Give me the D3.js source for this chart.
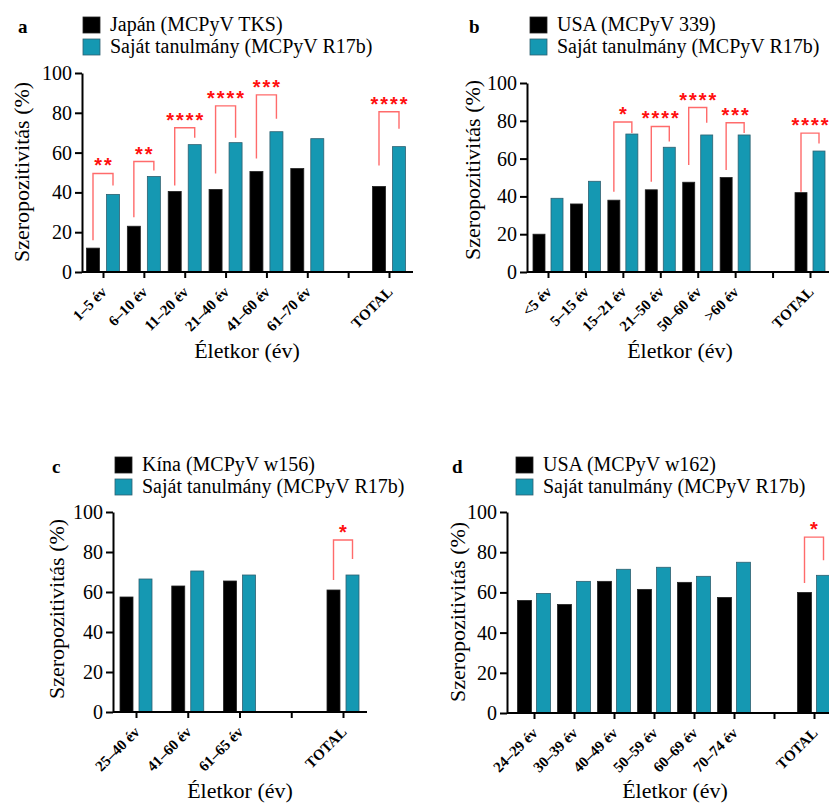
<!DOCTYPE html>
<html>
<head>
<meta charset="utf-8">
<script src="https://cdn.jsdelivr.net/npm/d3@7"></script>
<style>
  body { margin: 0; background: #fff; }
  svg text { font-family: "Liberation Serif", serif; }
</style>
</head>
<body>
<div id="chart"></div>
<script>
// ---- data ----
const yTicks = [0, 20, 40, 60, 80, 100];
const ownLabel = 'Saját tanulmány (MCPyV R17b)';

const catsA = ['1–5 év', '6–10 év', '11–20 év', '21–40 év', '41–60 év', '61–70 év', '', 'TOTAL'];
const japanA = [12, 23, 40.5, 41.5, 50.5, 52, null, 43];
const ownA = [39, 48, 64, 65, 70.5, 67, null, 63];
// [category index, stars, bracket top, left leg end, right leg end]
const sigA = [
  [0, '**', 49.5, 16, 43.5],
  [1, '**', 55.5, 27.5, 51],
  [2, '****', 72.5, 43.5, 67.5],
  [3, '****', 83.5, 49.5, 67.5],
  [4, '***', 89, 57, 77],
  [7, '****', 80.5, 53.5, 72]
];

const catsB = ['<5 év', '5–15 év', '15–21 év', '21–50 év', '50–60 év', '>60 év', '', 'TOTAL'];
const usaB = [20, 36, 38, 43.5, 47.5, 50, null, 42];
const ownB = [39, 48, 73, 66, 72.5, 72.5, null, 64];
const sigB = [
  [2, '*', 79.4, 42.5, 73.5],
  [3, '****', 77, 47.7, 69],
  [4, '****', 87, 56.6, 79],
  [5, '***', 79, 54, 73.5],
  [7, '****', 73.5, 42.5, 68]
];

const catsC = ['25–40 év', '41–60 év', '61–65 év', '', 'TOTAL'];
const chinaC = [57.5, 63, 65.5, null, 61];
const ownC = [66.5, 70.5, 68.5, null, 68.5];
const sigC = [[4, '*', 86, 66, 76.5]];

const catsD = ['24–29 év', '30–39 év', '40–49 év', '50–59 év', '60–69 év', '70–74 év', '', 'TOTAL'];
const usaD = [56, 54, 65.5, 61.5, 65, 57.5, null, 60];
const ownD = [59.5, 65.5, 71.5, 72.5, 68, 75, null, 68.5];
const sigD = [[7, '*', 87.5, 64.7, 76]];

// ---- drawing ----
const teal = '#1598b2';
const tealStroke = '#2e6070';
const bracketColor = '#ff6b6b';
const starColor = '#ff1010';

const svg = d3.select('#chart').append('svg')
  .attr('width', 829)
  .attr('height', 808)
  .style('display', 'block');

function drawPanel(p) {
  const g = svg.append('g').attr('class', `panel-${p.letter}`);

  const yScale = d3.scaleLinear()
    .domain([0, 100])
    .range([p.y0, p.y100]);

  const xScale = d3.scalePoint()
    .domain(p.cats)
    .range([p.first, p.last]);

  // bars
  const series = [
    { values: p.ref, fill: '#000', stroke: '#222', offset: -p.gap - p.w },
    { values: p.own, fill: teal, stroke: tealStroke, offset: p.gap }
  ];
  series.forEach((s) => {
    const rows = p.cats.map((c, i) => ({ cat: c, v: s.values[i] })).filter((d) => d.v !== null);
    g.append('g').selectAll('rect')
      .data(rows)
      .join('rect')
      .attr('x', (d) => xScale(d.cat) + s.offset)
      .attr('y', (d) => yScale(d.v))
      .attr('width', p.w)
      .attr('height', (d) => p.y0 - yScale(d.v))
      .style('fill', s.fill)
      .style('stroke', s.stroke)
      .style('stroke-width', 0.8);
  });

  // y axis
  const yAxis = g.append('g')
    .attr('transform', `translate(${p.x0},0)`)
    .call(d3.axisLeft(yScale).tickValues(yTicks).tickSize(7).tickSizeOuter(0).tickPadding(3));
  yAxis.attr('font-family', null).attr('font-size', null);
  yAxis.select('.domain').style('stroke-width', 2);
  yAxis.selectAll('.tick line').style('stroke-width', 2);
  yAxis.selectAll('.tick text').style('font-size', '20px');

  // x axis
  const xAxis = g.append('g')
    .attr('transform', `translate(0,${p.y0})`)
    .call(d3.axisBottom(xScale).tickSize(6).tickSizeOuter(0));
  xAxis.attr('font-family', null).attr('font-size', null);
  xAxis.select('.domain')
    .attr('d', `M${p.x0},0H${p.xEnd}`)
    .style('stroke-width', 2);
  xAxis.selectAll('.tick line').style('stroke-width', 2);
  xAxis.selectAll('.tick text')
    .attr('x', 0)
    .attr('y', 0)
    .attr('dy', 0)
    .attr('transform', 'translate(4,21) rotate(-45)')
    .style('text-anchor', 'end')
    .style('font-size', '15px')
    .style('font-weight', 'bold');

  // significance brackets
  const sigG = g.append('g');
  p.sig.forEach(([idx, stars, top, leftEnd, rightEnd]) => {
    const c = xScale(p.cats[idx]);
    const lx = c - p.gap - p.w / 2;
    const rx = c + p.gap + p.w / 2;
    sigG.append('path')
      .attr('d', `M${lx},${yScale(leftEnd)}V${yScale(top)}H${rx}V${yScale(rightEnd)}`)
      .style('fill', 'none')
      .style('stroke', bracketColor)
      .style('stroke-width', 1.4);
    sigG.append('text')
      .attr('x', (lx + rx) / 2 + 1)
      .attr('y', yScale(top) - 1)
      .attr('text-anchor', 'middle')
      .style('font-family', '"Liberation Sans", Arial, sans-serif')
      .style('font-weight', 'bold')
      .style('font-size', '20px')
      .style('letter-spacing', '2px')
      .style('fill', starColor)
      .text(stars);
  });

  // axis titles
  g.append('text')
    .attr('transform', `translate(${p.yTitleX},${p.yTitleY}) rotate(-90)`)
    .attr('text-anchor', 'middle')
    .style('font-size', '22px')
    .text('Szeropozitivitás (%)');

  g.append('text')
    .attr('x', p.xTitleX)
    .attr('y', p.xTitleY)
    .attr('text-anchor', 'middle')
    .style('font-size', '22px')
    .text('Életkor (év)');

  // legend
  const legend = [
    { label: p.refLabel, fill: '#000', stroke: '#222' },
    { label: ownLabel, fill: teal, stroke: tealStroke }
  ];
  legend.forEach((l, i) => {
    g.append('rect')
      .attr('x', p.legX)
      .attr('y', p.legY + i * 22)
      .attr('width', 17)
      .attr('height', 16)
      .style('fill', l.fill)
      .style('stroke', l.stroke)
      .style('stroke-width', 0.8);
    g.append('text')
      .attr('x', p.legX + 27)
      .attr('y', p.legY + 14 + i * 22)
      .style('font-size', '20px')
      .text(l.label);
  });

  // panel letter
  g.append('text')
    .attr('x', p.letterX)
    .attr('y', p.letterY)
    .style('font-size', '19px')
    .style('font-weight', 'bold')
    .text(p.letter);
}

drawPanel({
  letter: 'a', cats: catsA, ref: japanA, own: ownA, sig: sigA, refLabel: 'Japán (MCPyV TKS)',
  x0: 82, xEnd: 413, first: 103, last: 389, y0: 272, y100: 73, w: 13, gap: 3.5,
  letterX: 18, letterY: 33, legX: 83, legY: 17,
  yTitleX: 29, yTitleY: 172, xTitleX: 247, xTitleY: 358
});

drawPanel({
  letter: 'b', cats: catsB, ref: usaB, own: ownB, sig: sigB, refLabel: 'USA (MCPyV 339)',
  x0: 527, xEnd: 835, first: 548, last: 810, y0: 272, y100: 83, w: 12, gap: 3,
  letterX: 469, letterY: 33, legX: 530, legY: 17,
  yTitleX: 480, yTitleY: 170, xTitleX: 680, xTitleY: 358
});

drawPanel({
  letter: 'c', cats: catsC, ref: chinaC, own: ownC, sig: sigC, refLabel: 'Kína (MCPyV w156)',
  x0: 113, xEnd: 367, first: 136, last: 343, y0: 712, y100: 512, w: 13, gap: 3,
  letterX: 52, letterY: 473, legX: 115, legY: 457,
  yTitleX: 64, yTitleY: 609, xTitleX: 240, xTitleY: 798
});

drawPanel({
  letter: 'd', cats: catsD, ref: usaD, own: ownD, sig: sigD, refLabel: 'USA (MCPyV w162)',
  x0: 507, xEnd: 835, first: 534, last: 814, y0: 713, y100: 512, w: 14, gap: 2.5,
  letterX: 452, letterY: 473, legX: 516, legY: 457,
  yTitleX: 465, yTitleY: 612, xTitleX: 675, xTitleY: 798
});
</script>
</body>
</html>
